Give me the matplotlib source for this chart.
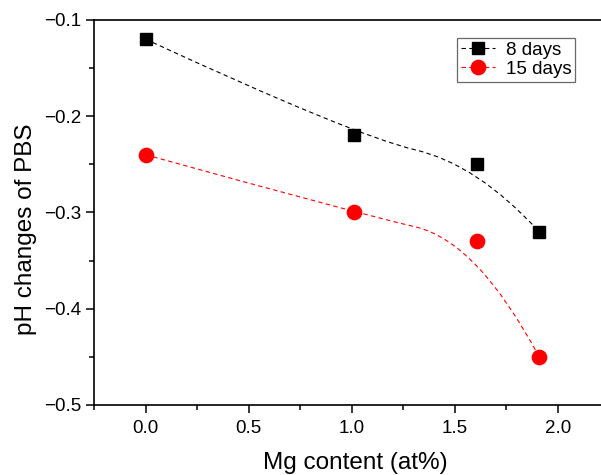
# -*- coding: utf-8 -*-

# pH change of PBS vs Mg content, two immersion times
import matplotlib
matplotlib.use("Agg")
import matplotlib.pyplot as plt
from matplotlib.path import Path
from matplotlib.patches import PathPatch
from matplotlib.ticker import MultipleLocator

plt.rcParams['font.family'] = ['Liberation Sans', 'DejaVu Sans']
plt.rcParams['axes.unicode_minus'] = True

# data
mg_content = [0.0, 1.01, 1.61, 1.91]
ph_8_days = [-0.12, -0.22, -0.25, -0.32]
ph_15_days = [-0.24, -0.30, -0.33, -0.45]
series_labels = ["8 days", "15 days"]


# quadratic B-spline with the points as control points (Origin style)
def bspline_path(xs, ys):
    verts = [(xs[0], ys[0]), (xs[1], ys[1])]
    codes = [Path.MOVETO, Path.CURVE3]
    for i in range(1, len(xs) - 2):
        verts.append(((xs[i] + xs[i + 1]) / 2, (ys[i] + ys[i + 1]) / 2))
        codes.append(Path.CURVE3)
        verts.append((xs[i + 1], ys[i + 1]))
        codes.append(Path.CURVE3)
    verts.append((xs[-1], ys[-1]))
    codes.append(Path.CURVE3)
    return Path(verts, codes)


def tick_fmt(v, pos):
    return f"{v:.1f}".replace("-", "\u2212")


DASH = (0, (4, 3))

fig = plt.figure(figsize=(6.01, 4.75), dpi=100)
ax = fig.add_axes([0.1567, 0.1474, 0.857, 0.8105])

# smooth dashed curves
for ys, col in [(ph_8_days, 'black'), (ph_15_days, 'red')]:
    patch = PathPatch(bspline_path(mg_content, ys), facecolor='none',
                      edgecolor=col, lw=0.8, linestyle=DASH)
    ax.add_patch(patch)

# markers
ax.plot(mg_content, ph_8_days, linestyle='none', marker='s', ms=9.2,
        color='black')
ax.plot(mg_content, ph_15_days, linestyle='none', marker='o', ms=10.3,
        color='red')

# legend handles (dash - marker - dash)
h1, = ax.plot([], [], color='black', lw=0.8, ls=DASH, marker='s', ms=9.2)
h2, = ax.plot([], [], color='red', lw=0.8, ls=DASH, marker='o', ms=10.3)
leg = ax.legend([h1, h2], series_labels, loc='upper left',
                bbox_to_anchor=(0.7045, 0.953), fontsize=13.5, frameon=True,
                fancybox=False, edgecolor='#444444', handlelength=1.8,
                borderpad=0.2, labelspacing=0.1, handletextpad=0.6,
                borderaxespad=0)
leg.get_frame().set_linewidth(0.9)

ax.set_xlim(-0.25, 2.25)
ax.set_ylim(-0.5, -0.1)
ax.xaxis.set_major_locator(MultipleLocator(0.5))
ax.xaxis.set_minor_locator(MultipleLocator(0.25))
ax.yaxis.set_major_locator(MultipleLocator(0.1))
ax.yaxis.set_minor_locator(MultipleLocator(0.05))
ax.xaxis.set_major_formatter(tick_fmt)
ax.yaxis.set_major_formatter(tick_fmt)

ax.tick_params(which='both', direction='out', width=1.1, labelsize=13.5,
               top=False, right=False)
ax.tick_params(which='major', length=5.5)
ax.tick_params(which='minor', length=3.5)
ax.tick_params(axis='x', pad=5)
ax.tick_params(axis='y', pad=4)
for s in ax.spines.values():
    s.set_linewidth(1.2)

ax.set_xlabel("Mg content (at%)", fontsize=17.5)
ax.set_ylabel("pH changes of PBS", fontsize=17.5)
ax.xaxis.set_label_coords(0.507, -0.122)
ax.yaxis.set_label_coords(-0.111, 0.457)

fig.savefig("out.png", dpi=100)
